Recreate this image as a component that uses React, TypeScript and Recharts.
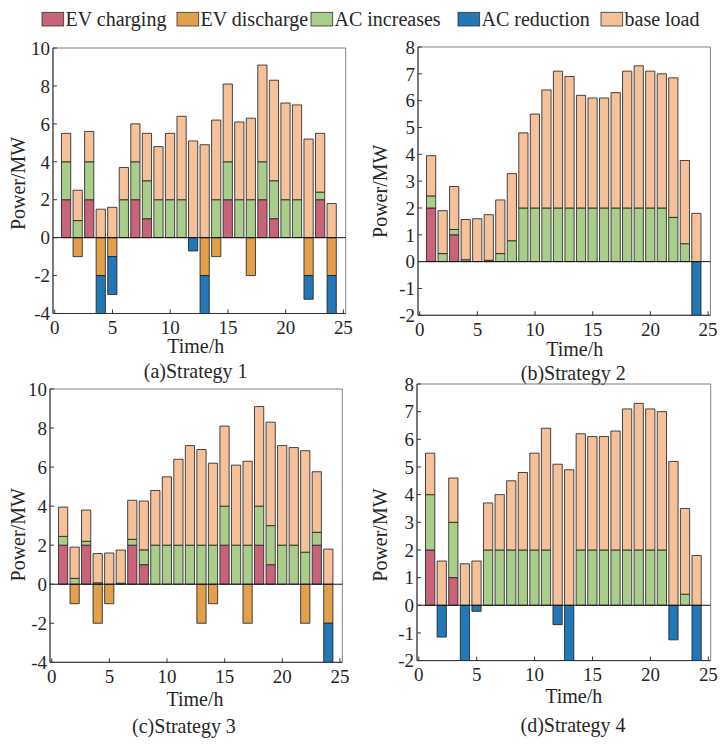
import { BarChart, Bar, XAxis, YAxis, ReferenceLine, ReferenceArea } from "recharts";

// hours on the x axis
const HOURS = [1, 2, 3, 4, 5, 6, 7, 8, 9, 10, 11, 12, 13, 14, 15, 16, 17, 18, 19, 20, 21, 22, 23, 24];

// base load is the same in every strategy
const BASE_LOAD = [1.5, 1.6, 1.6, 1.5, 1.6, 1.7, 2.0, 2.5, 2.8, 3.5, 4.4, 5.1, 4.9, 4.2, 4.1, 4.1, 4.3, 5.1, 5.3, 5.1, 5.0, 5.2, 3.1, 1.8];

// Strategy 1
const S1_EV_CHARGE = [2, 0, 2, 0, 0, 0, 2, 1, 0, 0, 0, 0, 0, 0, 2, 0, 0, 2, 1, 0, 0, 0, 2, 0];
const S1_EV_DISCHARGE = [0, -1, 0, -2, -1, 0, 0, 0, 0, 0, 0, 0, -2, -1, 0, 0, -2, 0, 0, 0, 0, -2, 0, -2];
const S1_AC_UP = [2, 0.9, 2, 0, 0, 2, 2, 2, 2, 2, 2, 0, 0, 2, 2, 2, 2, 2, 2, 2, 2, 0, 0.4, 0];
const S1_AC_DOWN = [0, 0, 0, -2.3, -2, 0, 0, 0, 0, 0, 0, -0.7, -2.3, 0, 0, 0, 0, 0, 0, 0, 0, -1.25, 0, -2.3];

// Strategy 2
const S2_EV_CHARGE = [2, 0, 1, 0, 0, 0, 0, 0, 0, 0, 0, 0, 0, 0, 0, 0, 0, 0, 0, 0, 0, 0, 0, 0];
const S2_EV_DISCHARGE = [0, 0, 0, 0, 0, 0, 0, 0, 0, 0, 0, 0, 0, 0, 0, 0, 0, 0, 0, 0, 0, 0, 0, 0];
const S2_AC_UP = [0.45, 0.3, 0.2, 0.07, 0, 0.05, 0.3, 0.78, 2, 2, 2, 2, 2, 2, 2, 2, 2, 2, 2, 2, 2, 1.65, 0.67, 0];
const S2_AC_DOWN = [0, 0, 0, 0, 0, 0, 0, 0, 0, 0, 0, 0, 0, 0, 0, 0, 0, 0, 0, 0, 0, 0, 0, -2.3];

// Strategy 3
const S3_EV_CHARGE = [2, 0, 2, 0, 0, 0, 2, 1, 0, 0, 0, 0, 0, 0, 2, 0, 0, 2, 1, 0, 0, 0, 2, 0];
const S3_EV_DISCHARGE = [0, -1, 0, -2, -1, 0, 0, 0, 0, 0, 0, 0, -2, -1, 0, 0, -2, 0, 0, 0, 0, -2, 0, -2];
const S3_AC_UP = [0.45, 0.3, 0.2, 0.07, 0, 0.05, 0.3, 0.76, 2, 2, 2, 2, 2, 2, 2, 2, 2, 2, 2, 2, 2, 1.64, 0.66, 0];
const S3_AC_DOWN = [0, 0, 0, 0, 0, 0, 0, 0, 0, 0, 0, 0, 0, 0, 0, 0, 0, 0, 0, 0, 0, 0, 0, -2.3];

// Strategy 4
const S4_EV_CHARGE = [2, 0, 1, 0, 0, 0, 0, 0, 0, 0, 0, 0, 0, 0, 0, 0, 0, 0, 0, 0, 0, 0, 0, 0];
const S4_EV_DISCHARGE = [0, 0, 0, 0, 0, 0, 0, 0, 0, 0, 0, 0, 0, 0, 0, 0, 0, 0, 0, 0, 0, 0, 0, 0];
const S4_AC_UP = [2, 0, 2, 0, 0, 2, 2, 2, 2, 2, 2, 0, 0, 2, 2, 2, 2, 2, 2, 2, 2, 0, 0.4, 0];
const S4_AC_DOWN = [0, -1.15, 0, -2.3, -0.22, 0, 0, 0, 0, 0, 0, -0.7, -2.3, 0, 0, 0, 0, 0, 0, 0, 0, -1.25, 0, -2.3];

const X_TICKS = [0, 5, 10, 15, 20, 25];
const Y_TICKS_WIDE = [-4, -2, 0, 2, 4, 6, 8, 10];
const Y_TICKS_NARROW = [-2, -1, 0, 1, 2, 3, 4, 5, 6, 7, 8];

const SERIES = [
  { key: "evc", name: "EV charging", color: "#C86479" },
  { key: "evd", name: "EV discharge", color: "#E2A04B" },
  { key: "aci", name: "AC increases", color: "#ABCD8B" },
  { key: "acr", name: "AC reduction", color: "#2477B7" },
  { key: "base", name: "base load", color: "#F5C19A" },
];

const STRATEGIES = [
  { title: "(a)Strategy 1", evc: S1_EV_CHARGE, evd: S1_EV_DISCHARGE, aci: S1_AC_UP, acr: S1_AC_DOWN, yTicks: Y_TICKS_WIDE },
  { title: "(b)Strategy 2", evc: S2_EV_CHARGE, evd: S2_EV_DISCHARGE, aci: S2_AC_UP, acr: S2_AC_DOWN, yTicks: Y_TICKS_NARROW },
  { title: "(c)Strategy 3", evc: S3_EV_CHARGE, evd: S3_EV_DISCHARGE, aci: S3_AC_UP, acr: S3_AC_DOWN, yTicks: Y_TICKS_WIDE },
  { title: "(d)Strategy 4", evc: S4_EV_CHARGE, evd: S4_EV_DISCHARGE, aci: S4_AC_UP, acr: S4_AC_DOWN, yTicks: Y_TICKS_NARROW },
];

// page positions of each plot box and its labels
const PANELS = [
  { left: 53.3, right: 346, top: 47.5, bottom: 313, yLabX: 25, yLabY: 183, timeX: 196, timeY: 352.7, titleX: 196, titleY: 377.7 },
  { left: 418.3, right: 710.7, top: 46.7, bottom: 315, yLabX: 387, yLabY: 191, timeX: 575, timeY: 356, titleX: 573.5, titleY: 379.5 },
  { left: 50, right: 342.3, top: 389.2, bottom: 662.5, yLabX: 25, yLabY: 535, timeX: 195, timeY: 706, titleX: 184, titleY: 733 },
  { left: 417.3, right: 711, top: 383.9, bottom: 660.5, yLabX: 387, yLabY: 535, timeX: 574, timeY: 703, titleX: 573.3, titleY: 731.7 },
];

const LEGEND_X = [42, 177, 311, 458, 601];

const FONT = "Liberation Serif, Times New Roman, serif";
const INK = "#262626";
const X_DOMAIN = [-0.15, 25.2];
const YW = 50;
const MT = 10;
const MR = 12;
const XH = 85;

function Panel({ s, p }) {
  const w = p.right - p.left;
  const h = p.bottom - p.top;
  const ox = p.left - YW;
  const oy = p.top - MT;
  const yMin = s.yTicks[0];
  const yMax = s.yTicks[s.yTicks.length - 1];
  const data = HOURS.map((hour, i) => ({
    hour,
    evc: s.evc[i],
    evd: s.evd[i],
    aci: s.aci[i],
    acr: s.acr[i],
    base: BASE_LOAD[i],
  }));
  const barSize = (0.8 * w) / (X_DOMAIN[1] - X_DOMAIN[0]);
  const tickStyle = { fontSize: 19, fill: INK, fontFamily: FONT };

  const xLabel = () => (
    <g style={{ fontFamily: FONT }} fill={INK} fontSize={20} textAnchor="middle">
      <text x={p.timeX - ox} y={p.timeY - oy}>Time/h</text>
      <text x={p.titleX - ox} y={p.titleY - oy}>{s.title}</text>
    </g>
  );
  const yLabel = () => {
    const x = p.yLabX - ox;
    const y = p.yLabY - oy;
    return (
      <text x={x} y={y} transform={`rotate(-90 ${x} ${y})`} textAnchor="middle" style={{ fontFamily: FONT }} fontSize={20} fill={INK}>
        Power/MW
      </text>
    );
  };

  return (
    <div style={{ position: "absolute", left: ox, top: oy }}>
      <BarChart
        width={w + YW + MR}
        height={h + MT + XH}
        data={data}
        stackOffset="sign"
        barSize={barSize}
        margin={{ top: MT, right: MR, left: 0, bottom: 0 }}
        style={{ fontFamily: FONT }}
      >
        <XAxis
          dataKey="hour"
          type="number"
          domain={X_DOMAIN}
          ticks={X_TICKS}
          interval={0}
          allowDataOverflow
          height={XH}
          tickSize={-4}
          tickMargin={11}
          tick={tickStyle}
          axisLine={{ stroke: "#333" }}
          tickLine={{ stroke: "#333" }}
          label={xLabel}
        />
        <YAxis
          type="number"
          domain={[yMin, yMax]}
          ticks={s.yTicks}
          interval={0}
          allowDataOverflow
          width={YW}
          tickSize={-4}
          tickMargin={7}
          tick={tickStyle}
          axisLine={{ stroke: "#333" }}
          tickLine={{ stroke: "#333" }}
          label={yLabel}
        />
        <ReferenceArea x1={X_DOMAIN[0]} x2={X_DOMAIN[1]} y1={yMin} y2={yMax} fill="none" stroke="#808080" strokeWidth={1} />
        {SERIES.map((ser) => (
          <Bar
            key={ser.key}
            dataKey={ser.key}
            name={ser.name}
            stackId="p"
            fill={ser.color}
            stroke="#1c1c1c"
            strokeWidth={0.8}
            isAnimationActive={false}
          />
        ))}
        <ReferenceLine y={0} stroke="#111" strokeWidth={1} />
      </BarChart>
    </div>
  );
}

export default function App() {
  return (
    <div style={{ position: "absolute", left: 0, top: 0, width: 725, height: 747, background: "#fff", fontFamily: FONT }}>
      <svg width={725} height={40} style={{ position: "absolute", left: 0, top: 0, fontFamily: FONT }}>
        {SERIES.map((ser, i) => (
          <g key={ser.key}>
            <rect x={LEGEND_X[i]} y={12.3} width={21.7} height={13.7} fill={ser.color} stroke="#333" strokeWidth={0.8} />
            <text x={LEGEND_X[i] + 23.5} y={26} fontSize={20} fill={INK}>
              {ser.name}
            </text>
          </g>
        ))}
      </svg>
      {STRATEGIES.map((s, i) => (
        <Panel key={s.title} s={s} p={PANELS[i]} />
      ))}
    </div>
  );
}
